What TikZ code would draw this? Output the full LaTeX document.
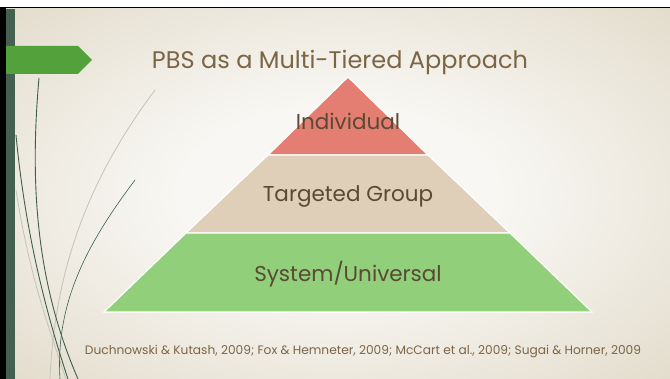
\documentclass[tikz,border=0pt]{standalone}
\usepackage{fontspec}
\setmainfont{Poppins}
\definecolor{bgin}{RGB}{248,247,243}
\definecolor{bgout}{RGB}{227,220,204}
\definecolor{bardark}{RGB}{69,96,80}
\definecolor{tabgreen}{RGB}{83,161,59}
\definecolor{stemgreen}{RGB}{62,94,78}
\definecolor{stemgray}{RGB}{200,194,182}
\definecolor{titlebrown}{RGB}{124,101,69}
\definecolor{tierbrown}{RGB}{90,73,52}
\definecolor{tierred}{RGB}{229,126,114}
\definecolor{tiertan}{RGB}{223,207,184}
\definecolor{tiergreen}{RGB}{145,207,123}
\pgfdeclareradialshading{slidebg}{\pgfpoint{0bp}{0bp}}{color(0bp)=(bgin); color(12bp)=(bgin); color(36bp)=(bgout); color(50bp)=(bgout)}
\begin{document}
\begin{tikzpicture}[x=1pt,y=-1pt,
                tier/.style={draw=white, line width=1.2pt, line join=miter},
                tiertext/.style={text=tierbrown, font=\fontsize{21.5}{25}\selectfont},
                stem/.style={draw=stemgreen, line width=0.9pt},
                faint/.style={draw=stemgray, line width=0.8pt}
            ]
                \useasboundingbox (0,0) rectangle (670,379);
                % slide frame and background
                \fill[white] (0,0) rectangle (670,379);
                \fill[black] (0,7) rectangle (670,379);
                \shade[shading=slidebg] (6,9) rectangle (670,379);
                \fill[bardark] (6,9) rectangle (15,379);
                % grass stems
                \draw[faint] (155,90) .. controls (95,170) and (55,260) .. (50,379);
                \draw[faint] (16,190) .. controls (30,280) and (50,330) .. (66,379);
                \draw[stem] (39,78) .. controls (30,180) and (35,280) .. (78,379);
                \draw[stem] (16,135) .. controls (25,230) and (45,310) .. (68,379);
                \draw[stem, line width=0.6pt] (135,180) .. controls (90,240) and (55,300) .. (60,379);
                % title tab
                \fill[tabgreen] (6,46) -- (78,46) -- (92,60) -- (78,74) -- (6,74) -- cycle;
                \node[text=titlebrown, font=\fontsize{24}{28}\selectfont] (title) at (340,62) {PBS as a Multi-Tiered Approach};
                % pyramid
                \filldraw[tier, fill=tierred] (348,77) -- (428,155) -- (268,155) -- cycle;
                \filldraw[tier, fill=tiertan] (268,155) -- (428,155) -- (510,233) -- (186,233) -- cycle;
                \filldraw[tier, fill=tiergreen] (186,233) -- (510,233) -- (592,312) -- (104,312) -- cycle;
                \node[tiertext] (individual) at (348,121) {Individual};
                \node[tiertext] (targeted) at (348,196) {Targeted Group};
                \node[tiertext] (universal) at (348,274) {System/Universal};
                % sources
                \node[text=titlebrown, font=\fontsize{12.2}{14}\selectfont] (sources) at (363,352) {Duchnowski \& Kutash, 2009; Fox \& Hemneter, 2009; McCart et al., 2009; Sugai \& Horner, 2009};
\end{tikzpicture}
\end{document}
